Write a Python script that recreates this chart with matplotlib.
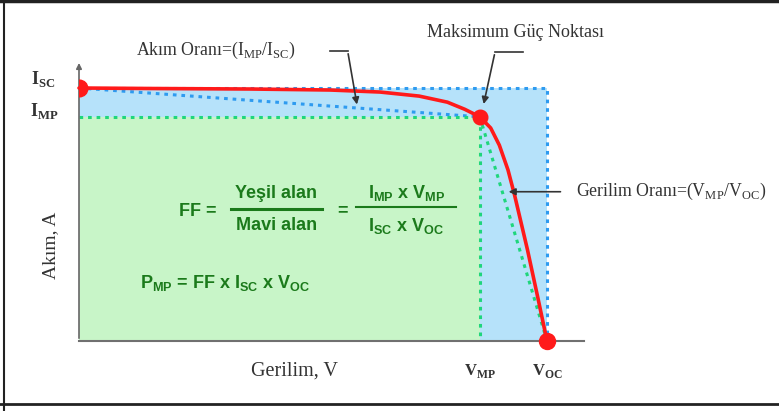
import matplotlib.pyplot as plt
from matplotlib.patches import Rectangle

# Akım-gerilim (I-V) eğrisi değerleri
voltage = [0.0, 3.3, 7.9, 11.6, 13.9, 15.7, 17.0, 17.8, 18.5, 19.0, 19.4, 19.8, 20.1, 20.7, 21.2, 21.6]
current = [5.0, 4.99, 4.98, 4.96, 4.92, 4.84, 4.72, 4.58, 4.43, 4.21, 3.87, 3.38, 2.89, 1.80, 0.81, 0.0]

Isc = 5.0
Imp = 4.43
Vmp = 18.5
Voc = 21.6

TXT = '#333333'
GRN_TXT = '#1b7a1b'
RED = '#ff1a1a'
BLUE_DOT = '#2e9bf0'
GREEN_DOT = '#1fd67c'

fig = plt.figure(figsize=(7.79, 4.11), dpi=100)
ax = fig.add_axes([0, 0, 1, 1])
# piksel ölçeği: 21.667 px/V, 50.6 px/A, orijin (79, 341)
ax.set_xlim(-79 / 21.667, 700 / 21.667)
ax.set_ylim(-70 / 50.6, 341 / 50.6)
ax.axis('off')

# alanlar
ax.add_patch(Rectangle((0, 0), Voc, Isc, facecolor='#b6e2fa', edgecolor='none', zorder=1))
ax.add_patch(Rectangle((0, 0), Vmp, Imp, facecolor='#c8f5c8', edgecolor='none', zorder=2))

# noktalı çizgiler
ax.plot([0, Voc, Voc], [Isc, Isc, 0], color=BLUE_DOT, lw=2.2, ls=(0, (1.2, 1.6)), zorder=3)
ax.plot([0, Vmp], [Isc, Imp], color=BLUE_DOT, lw=2.2, ls=(0, (1.2, 1.6)), zorder=3)
ax.plot([0, Vmp, Vmp], [Imp, Imp, 0], color=GREEN_DOT, lw=2.2, ls=(0, (1.2, 1.6)), zorder=3)
ax.plot([Vmp, Voc], [Imp, 0], color=GREEN_DOT, lw=2.2, ls=(0, (1.2, 1.6)), zorder=3)

# eksenler
ax.plot([0, Voc + 1.7], [0, 0], color='#707070', lw=1.5, zorder=4)
ax.annotate('', xy=(0, 5.55), xytext=(0, 0),
            arrowprops=dict(arrowstyle='-|>', color='#666666', lw=1.2, mutation_scale=8), zorder=4)

# I-V eğrisi
ax.plot(voltage, current, color=RED, lw=2.6, zorder=5, solid_capstyle='round')
isc_dot, = ax.plot([0], [Isc], 'o', color=RED, ms=12, zorder=6)
isc_dot.set_clip_path(Rectangle((0, 0), 5, 6, transform=ax.transData))
ax.plot([Vmp], [Imp], 'o', color=RED, ms=10.5, zorder=6)
ax.plot([Voc], [0], 'o', color=RED, ms=11.5, zorder=6)

serif = 'Liberation Serif'
plt.rcParams['mathtext.fontset'] = 'custom'
plt.rcParams['mathtext.rm'] = serif

# eksen etiketleri
ax.text(-1.65, 5.18, r'I$_\mathregular{SC}$', family=serif, fontsize=13, fontweight='bold',
        color=TXT, ha='center', va='center')
ax.text(-1.62, 4.55, r'I$_\mathregular{MP}$', family=serif, fontsize=13, fontweight='bold',
        color=TXT, ha='center', va='center')
ax.text(Vmp, -0.6, r'V$_\mathregular{MP}$', family=serif, fontsize=12, fontweight='bold',
        color=TXT, ha='center', va='center')
ax.text(Voc, -0.6, r'V$_\mathregular{OC}$', family=serif, fontsize=12, fontweight='bold',
        color=TXT, ha='center', va='center')
ax.text(9.95, -0.6, 'Gerilim, V', family=serif, fontsize=14.5, color=TXT, ha='center', va='center')
ax.text(-1.3, 1.9, 'Akım, A', family=serif, fontsize=14, color=TXT, rotation=90,
        ha='center', va='center')

# açıklamalar
ax.text(2.65, 5.74, r'Akım Oranı=(I$_\mathregular{MP}$/I$_\mathregular{SC}$)', family=serif,
        fontsize=12.8, color=TXT, ha='left', va='center')
ax.plot([11.6, 12.4], [5.73, 5.73], color=TXT, lw=1.2, zorder=7)
ax.annotate('', xy=(12.85, 4.62), xytext=(12.4, 5.73),
            arrowprops=dict(arrowstyle='-|>', color=TXT, lw=1.2, mutation_scale=10), zorder=7)

ax.text(16.05, 6.1, 'Maksimum Güç Noktası', family=serif, fontsize=13, color=TXT,
        ha='left', va='center')
ax.plot([20.5, 19.2], [5.71, 5.71], color=TXT, lw=1.2, zorder=7)
ax.annotate('', xy=(18.65, 4.63), xytext=(19.2, 5.71),
            arrowprops=dict(arrowstyle='-|>', color=TXT, lw=1.2, mutation_scale=10), zorder=7)

ax.text(22.95, 2.95, r'Gerilim Oranı=(V$_\mathregular{MP}$/V$_\mathregular{OC}$)', family=serif,
        fontsize=12.8, color=TXT, ha='left', va='center')
ax.annotate('', xy=(19.7, 2.95), xytext=(22.35, 2.95),
            arrowprops=dict(arrowstyle='-|>', color=TXT, lw=1.2, mutation_scale=10), zorder=7)

# FF formülü
sans = 'Liberation Sans'
fk = dict(family=sans, fontsize=13, color=GRN_TXT, fontweight='bold', zorder=8)
ax.text(5.5, 2.56, 'FF =', ha='center', va='center', **fk)
ax.text(9.1, 2.92, 'Yeşil alan', ha='center', va='center', **fk)
ax.text(9.1, 2.28, 'Mavi alan', ha='center', va='center', **fk)
ax.plot([7.0, 11.2], [2.61, 2.61], color=GRN_TXT, lw=2.2, zorder=8)
ax.text(12.15, 2.58, '=', ha='center', va='center', **fk)
ax.text(15.1, 2.92, r'I$_\mathregular{MP}$ x V$_\mathregular{MP}$', ha='center', va='center', **fk)
ax.text(15.1, 2.28, r'I$_\mathregular{SC}$ x V$_\mathregular{OC}$', ha='center', va='center', **fk)
ax.plot([12.8, 17.4], [2.65, 2.65], color=GRN_TXT, lw=1.5, zorder=8)
ax.text(2.8, 1.15, r'P$_\mathregular{MP}$ = FF x I$_\mathregular{SC}$ x V$_\mathregular{OC}$',
        ha='left', va='center', **fk)

# çerçeve
fig.add_artist(plt.Line2D([0, 1], [0.998, 0.998], color='#222222', lw=2.5, transform=fig.transFigure))
fig.add_artist(plt.Line2D([0.005, 0.005], [0, 1], color='#222222', lw=1.5, transform=fig.transFigure))
fig.add_artist(plt.Line2D([0, 1], [0.016, 0.016], color='#222222', lw=2, transform=fig.transFigure))

fig.savefig('out.png', dpi=100)
